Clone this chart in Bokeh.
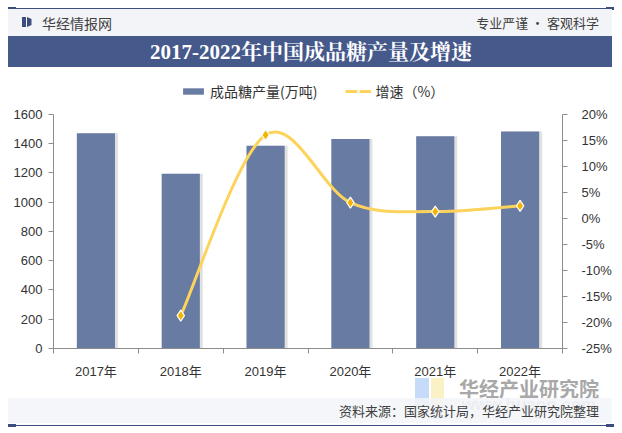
from bokeh.plotting import figure
from bokeh.layouts import column
from bokeh.models import (Range1d, LinearAxis, FixedTicker, PrintfTickFormatter,
                          Legend, LegendItem, Div)
from bokeh.embed import file_html
from bokeh.resources import INLINE

# ---------------- data ----------------
years = ["2017年", "2018年", "2019年", "2020年", "2021年", "2022年"]
production = [1470, 1193, 1385, 1430, 1450, 1482]          # 万吨
growth_years_idx = [1, 2, 3, 4, 5]
growth = [-18.7, 16.0, 3.0, 1.3, 2.4]                       # %
left_ticks = [0, 200, 400, 600, 800, 1000, 1200, 1400, 1600]
right_ticks = [-25, -20, -15, -10, -5, 0, 5, 10, 15, 20]

title_text = "2017-2022年中国成品糖产量及增速"
brand_text = "华经情报网"
slogan_text = "专业严谨 • 客观科学"
source_text = "资料来源：国家统计局，华经产业研究院整理"
watermark_text = "华经产业研究院"
watermark_url = "www.huaon.com"
bar_legend = "成品糖产量(万吨)"
line_legend = "增速（%）"

W = 622
BAR = "#687ba3"
NAVY = "#46598b"
DARK = "#3d4e7e"
LINE = "#fdd35c"
MARK = "#f5b300"
CJK = "Liberation Sans, Noto Sans CJK SC"
lab_col = "#333333"
ax_col = "#8c8c8c"


def blk(l, t, w, h, bg, extra=""):
    return (f'<div style="position:absolute;left:{l}px;top:{t}px;width:{w}px;'
            f'height:{h}px;background:{bg};{extra}"></div>')


def txt(t, h, s, extra):
    return (f'<div style="position:absolute;top:{t}px;height:{h}px;line-height:{h}px;'
            f'white-space:nowrap;{extra}">{s}</div>')


# ---------------- header (page y 0..67) ----------------
HH = 67
header_html = (
    f'<div style="position:relative;width:{W}px;height:{HH}px;overflow:hidden;'
    f'background:white;font-family:\'Noto Sans CJK SC\';">'
    + blk(8, 7.5, 606, 1.5, DARK)
    + blk(8, 6.5, 8, 3.5, DARK) + blk(606, 6.5, 8, 3.5, DARK)
    + blk(8, 9, 604, 27, "#f3f4f8")
    + blk(8, 36, 604, 31, NAVY)
    + blk(22, 17, 4, 10, DARK)
    + blk(27, 17, 4.5, 10, DARK, "clip-path:polygon(0 0,100% 20%,100% 80%,0 100%);")
    + txt(12.5, 20, brand_text, "left:42px;font-size:14px;color:#404040;")
    + txt(12.5, 20, slogan_text, "right:23px;font-size:13px;color:#404040;")
    + txt(37, 30, title_text,
          "left:0;width:622px;text-align:center;font-size:21px;font-weight:bold;"
          "color:white;font-family:'Liberation Serif','Noto Serif CJK SC','Noto Sans CJK SC';")
    + '</div>')
header = Div(text=header_html, width=W, height=HH, margin=0)

# ---------------- main chart (page y 67..381) ----------------
TOP, BOT = 67, 381
F_TOP, F_BOT, P_TOP = 78, 358, 115      # frame top, frame bottom, y of the top tick
scale_ext = (F_BOT - F_TOP) / (F_BOT - P_TOP)
p = figure(width=W, height=BOT - TOP, output_backend="svg", toolbar_location=None,
           x_range=Range1d(0, 6),
           y_range=Range1d(0, left_ticks[-1] * scale_ext),
           min_border_left=53, min_border_right=60,
           min_border_top=F_TOP - TOP, min_border_bottom=BOT - F_BOT,
           x_axis_type=None, y_axis_type=None, background_fill_color="white",
           border_fill_color="white", outline_line_color=None, margin=0)
p.xgrid.visible = False
p.ygrid.visible = False
r_lo, r_hi = right_ticks[0], right_ticks[-1]
p.extra_y_ranges = {"pct": Range1d(r_lo, r_lo + (r_hi - r_lo) * scale_ext)}

xc = [i + 0.5 for i in range(len(years))]

p.vbar(x=[v + 0.035 for v in xc], top=production, width=0.45, bottom=0,
       fill_color="#9a9a9a", fill_alpha=0.3, line_color=None)
bars = p.vbar(x=xc, top=production, width=0.45, bottom=0, fill_color=BAR, line_color=None)

# smoothed growth line (Catmull-Rom through the data points)
gx = [xc[i] for i in growth_years_idx]
gy = growth
n = len(gx)
x0s, y0s, x1s, y1s, cx0, cy0, cx1, cy1 = [], [], [], [], [], [], [], []
for i in range(n - 1):
    pm = max(i - 1, 0)
    pp = min(i + 2, n - 1)
    x0s.append(gx[i]); y0s.append(gy[i]); x1s.append(gx[i + 1]); y1s.append(gy[i + 1])
    cx0.append(gx[i] + (gx[i + 1] - gx[pm]) / 6); cy0.append(gy[i] + (gy[i + 1] - gy[pm]) / 6)
    cx1.append(gx[i + 1] - (gx[pp] - gx[i]) / 6); cy1.append(gy[i + 1] - (gy[pp] - gy[i]) / 6)
curve = p.bezier(x0=x0s, y0=y0s, x1=x1s, y1=y1s, cx0=cx0, cy0=cy0, cx1=cx1, cy1=cy1,
                 line_color=LINE, line_width=3, y_range_name="pct")
marks = p.scatter(x=gx, y=gy, marker="diamond", size=11, fill_color=MARK,
                  line_color="white", line_width=1.2, y_range_name="pct")

yl = LinearAxis(ticker=FixedTicker(ticks=left_ticks), bounds=(left_ticks[0], left_ticks[-1]))
yr = LinearAxis(y_range_name="pct", ticker=FixedTicker(ticks=right_ticks),
                bounds=(r_lo, r_hi), formatter=PrintfTickFormatter(format="%d%%"))
xa = LinearAxis(ticker=FixedTicker(ticks=xc, minor_ticks=list(range(0, 7))),
                major_label_overrides={v: y for v, y in zip(xc, years)})
for ax in (yl, yr, xa):
    ax.axis_line_color = ax_col
    ax.major_tick_line_color = ax_col
    ax.minor_tick_line_color = ax_col
    ax.major_tick_in = 0
    ax.major_tick_out = 5
    ax.minor_tick_in = 0
    ax.minor_tick_out = 0
    ax.major_label_text_font = CJK
    ax.major_label_text_font_size = "13px"
    ax.major_label_text_color = lab_col
yl.major_label_standoff = 6
yr.major_label_standoff = 14
xa.major_tick_out = 0
xa.minor_tick_out = 5
xa.major_label_standoff = 10
p.add_layout(yl, "left")
p.add_layout(yr, "right")
p.add_layout(xa, "below")

legend = Legend(items=[LegendItem(label=bar_legend, renderers=[bars]),
                       LegendItem(label=line_legend, renderers=[curve, marks])],
                orientation="horizontal", location=(127, F_BOT - 82 - 29),
                glyph_width=26, glyph_height=8, label_height=14, label_standoff=4,
                spacing=28, padding=0, margin=0,
                label_text_font="Noto Sans CJK SC", label_text_font_size="14px",
                label_text_color=lab_col, background_fill_alpha=0, border_line_color=None)
p.add_layout(legend, "center")

# ---------------- footer (page y 369..433, overlapping the chart's bottom edge) ----------------
F0 = 369
FH = 433 - F0
o = F0
footer_html = (
    f'<div style="position:relative;width:{W}px;height:{FH}px;overflow:hidden;'
    f'background:transparent;font-family:\'Noto Sans CJK SC\';pointer-events:none;">'
    + blk(415, 378 - o, 14, 29, "#9ec3f5", "opacity:0.6;")
    + blk(431, 378 - o, 13, 29, "#f6e7a0", "opacity:0.6;")
    + txt(377 - o, 24, watermark_text,
          "left:459px;width:140px;text-align:center;font-size:20px;font-weight:bold;color:#a8a8a8;")
    + txt(396 - o, 18, watermark_url,
          "left:459px;width:140px;text-align:center;font-size:17px;font-weight:bold;"
          "color:#c4c4c4;font-family:'Liberation Sans';")
    + blk(8, 398 - o, 604, 25, "#f2f4f8", "opacity:0.85;")
    + blk(8, 424.5 - o, 606, 1.5, DARK)
    + blk(8, 423.5 - o, 8, 3.5, DARK) + blk(606, 423.5 - o, 8, 3.5, DARK)
    + txt(401 - o, 20, source_text, "right:23px;font-size:13px;color:#404040;")
    + '</div>')
footer = Div(text=footer_html, width=W, height=FH, margin=(F0 - BOT, 0, 0, 0))

layout = column(header, p, footer, spacing=0)
open("out.html", "w").write(file_html(layout, INLINE))
